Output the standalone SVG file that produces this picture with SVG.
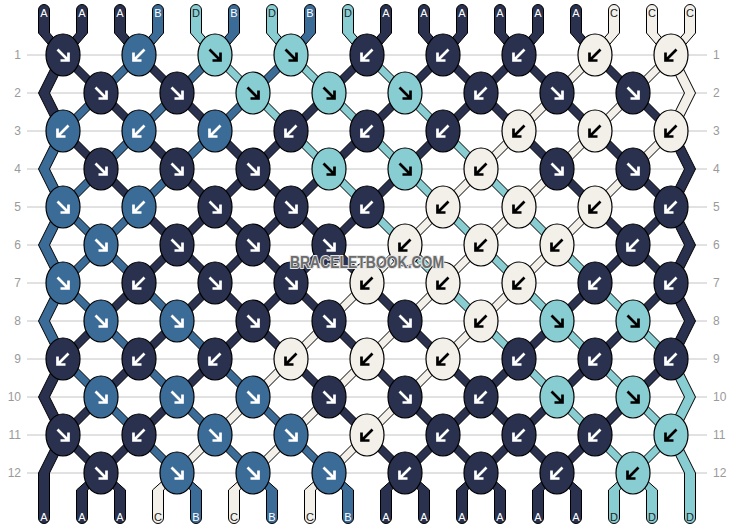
<svg xmlns="http://www.w3.org/2000/svg" width="734" height="528" viewBox="0 0 734 528">
<style>
.s{stroke:#000;stroke-width:1;stroke-linejoin:miter}
.A{fill:#29314f}.B{fill:#3b6c97}.C{fill:#f3efe9}.D{fill:#88cdd2}
.kn{stroke:#000;stroke-width:1.2}
.aw{fill:none;stroke:#fff;stroke-width:2.7}
.ak{fill:none;stroke:#000;stroke-width:2.7}
.rl{stroke:#c4c4c4;stroke-width:1}
.rn{font-family:"Liberation Sans",Arial,sans-serif;font-size:12px;fill:#9a9a9a}
.lb{font-family:"Liberation Sans",Arial,sans-serif;font-size:11px;text-anchor:middle}
.lw{fill:#fff}.ld{fill:#222}
.wm{font-family:"Liberation Sans",Arial,sans-serif;font-size:16px;font-weight:bold;fill:#6c6c6c;stroke:#e6e6e6;stroke-width:2;paint-order:stroke;text-anchor:middle}
</style>
<defs>
<g id="aF"><ellipse class="kn A" rx="17" ry="21"/><path class="aw" d="M-5.5,-5.5L4.5,4.5M5.5,-2.5V5.5H-2.5"/></g>
<g id="aB"><ellipse class="kn A" rx="17" ry="21"/><path class="aw" d="M5.5,-5.5L-4.5,4.5M-5.5,-2.5V5.5H2.5"/></g>
<g id="bF"><ellipse class="kn B" rx="17" ry="21"/><path class="aw" d="M-5.5,-5.5L4.5,4.5M5.5,-2.5V5.5H-2.5"/></g>
<g id="bB"><ellipse class="kn B" rx="17" ry="21"/><path class="aw" d="M5.5,-5.5L-4.5,4.5M-5.5,-2.5V5.5H2.5"/></g>
<g id="cB"><ellipse class="kn C" rx="17" ry="21"/><path class="ak" d="M5.5,-5.5L-4.5,4.5M-5.5,-2.5V5.5H2.5"/></g>
<g id="dF"><ellipse class="kn D" rx="17" ry="21"/><path class="ak" d="M-5.5,-5.5L4.5,4.5M5.5,-2.5V5.5H-2.5"/></g>
<g id="dB"><ellipse class="kn D" rx="17" ry="21"/><path class="ak" d="M5.5,-5.5L-4.5,4.5M-5.5,-2.5V5.5H2.5"/></g>
</defs>
<rect width="734" height="528" fill="#fff"/>
<g id="rows">
<g class="rl">
<line x1="27" y1="55" x2="707" y2="55"/><line x1="27" y1="93" x2="707" y2="93"/><line x1="27" y1="131" x2="707" y2="131"/><line x1="27" y1="169" x2="707" y2="169"/><line x1="27" y1="207" x2="707" y2="207"/><line x1="27" y1="245" x2="707" y2="245"/><line x1="27" y1="283" x2="707" y2="283"/><line x1="27" y1="321" x2="707" y2="321"/><line x1="27" y1="359" x2="707" y2="359"/><line x1="27" y1="397" x2="707" y2="397"/><line x1="27" y1="435" x2="707" y2="435"/><line x1="27" y1="473" x2="707" y2="473"/>
</g>
<g class="rn" text-anchor="end">
<text x="21" y="59">1</text><text x="21" y="97">2</text><text x="21" y="135">3</text><text x="21" y="173">4</text><text x="21" y="211">5</text><text x="21" y="249">6</text><text x="21" y="287">7</text><text x="21" y="325">8</text><text x="21" y="363">9</text><text x="21" y="401">10</text><text x="21" y="439">11</text><text x="21" y="477">12</text>
</g>
<g class="rn">
<text x="713" y="59">1</text><text x="713" y="97">2</text><text x="713" y="135">3</text><text x="713" y="173">4</text><text x="713" y="211">5</text><text x="713" y="249">6</text><text x="713" y="287">7</text><text x="713" y="325">8</text><text x="713" y="363">9</text><text x="713" y="401">10</text><text x="713" y="439">11</text><text x="713" y="477">12</text>
</g>
</g>
<g id="connectors">
<path id="s0" class="s A" d="M38.5,10 A5.5,5.5 0 0 1 49.5,10 L49.5,33 68.5,55 486.5,473 505.5,490 505.5,518 A5.5,5.5 0 0 1 494.5,518 L494.5,490 475.5,473 57.5,55 38.5,33 Z"/>
<path id="s1" class="s A" d="M76.5,10 A5.5,5.5 0 0 1 87.5,10 L87.5,33 68.5,55 49.5,93 68.5,131 410.5,473 429.5,490 429.5,518 A5.5,5.5 0 0 1 418.5,518 L418.5,490 399.5,473 57.5,131 38.5,93 57.5,55 76.5,33 Z"/>
<path id="s2" class="s A" d="M114.5,10 A5.5,5.5 0 0 1 125.5,10 L125.5,33 144.5,55 562.5,473 581.5,490 581.5,518 A5.5,5.5 0 0 1 570.5,518 L570.5,490 551.5,473 133.5,55 114.5,33 Z"/>
<path id="s3" class="s B" d="M152.5,10 A5.5,5.5 0 0 1 163.5,10 L163.5,33 144.5,55 68.5,131 49.5,169 68.5,207 334.5,473 353.5,490 353.5,518 A5.5,5.5 0 0 1 342.5,518 L342.5,490 323.5,473 57.5,207 38.5,169 57.5,131 133.5,55 152.5,33 Z"/>
<path id="s4" class="s D" d="M190.5,10 A5.5,5.5 0 0 1 201.5,10 L201.5,33 220.5,55 638.5,473 657.5,490 657.5,518 A5.5,5.5 0 0 1 646.5,518 L646.5,490 627.5,473 209.5,55 190.5,33 Z"/>
<path id="s5" class="s B" d="M228.5,10 A5.5,5.5 0 0 1 239.5,10 L239.5,33 220.5,55 68.5,207 49.5,245 68.5,283 258.5,473 277.5,490 277.5,518 A5.5,5.5 0 0 1 266.5,518 L266.5,490 247.5,473 57.5,283 38.5,245 57.5,207 209.5,55 228.5,33 Z"/>
<path id="s6" class="s D" d="M266.5,10 A5.5,5.5 0 0 1 277.5,10 L277.5,33 296.5,55 676.5,435 695.5,473 695.5,518 A5.5,5.5 0 0 1 684.5,518 L684.5,473 665.5,435 285.5,55 266.5,33 Z"/>
<path id="s7" class="s B" d="M304.5,10 A5.5,5.5 0 0 1 315.5,10 L315.5,33 296.5,55 68.5,283 49.5,321 68.5,359 182.5,473 201.5,490 201.5,518 A5.5,5.5 0 0 1 190.5,518 L190.5,490 171.5,473 57.5,359 38.5,321 57.5,283 285.5,55 304.5,33 Z"/>
<path id="s8" class="s D" d="M342.5,10 A5.5,5.5 0 0 1 353.5,10 L353.5,33 372.5,55 676.5,359 695.5,397 676.5,435 638.5,473 619.5,490 619.5,518 A5.5,5.5 0 0 1 608.5,518 L608.5,490 627.5,473 665.5,435 684.5,397 665.5,359 361.5,55 342.5,33 Z"/>
<path id="s9" class="s A" d="M380.5,10 A5.5,5.5 0 0 1 391.5,10 L391.5,33 372.5,55 68.5,359 49.5,397 68.5,435 106.5,473 125.5,490 125.5,518 A5.5,5.5 0 0 1 114.5,518 L114.5,490 95.5,473 57.5,435 38.5,397 57.5,359 361.5,55 380.5,33 Z"/>
<path id="s10" class="s A" d="M418.5,10 A5.5,5.5 0 0 1 429.5,10 L429.5,33 448.5,55 676.5,283 695.5,321 676.5,359 562.5,473 543.5,490 543.5,518 A5.5,5.5 0 0 1 532.5,518 L532.5,490 551.5,473 665.5,359 684.5,321 665.5,283 437.5,55 418.5,33 Z"/>
<path id="s11" class="s A" d="M456.5,10 A5.5,5.5 0 0 1 467.5,10 L467.5,33 448.5,55 68.5,435 49.5,473 49.5,518 A5.5,5.5 0 0 1 38.5,518 L38.5,473 57.5,435 437.5,55 456.5,33 Z"/>
<path id="s12" class="s A" d="M494.5,10 A5.5,5.5 0 0 1 505.5,10 L505.5,33 524.5,55 676.5,207 695.5,245 676.5,283 486.5,473 467.5,490 467.5,518 A5.5,5.5 0 0 1 456.5,518 L456.5,490 475.5,473 665.5,283 684.5,245 665.5,207 513.5,55 494.5,33 Z"/>
<path id="s13" class="s A" d="M532.5,10 A5.5,5.5 0 0 1 543.5,10 L543.5,33 524.5,55 106.5,473 87.5,490 87.5,518 A5.5,5.5 0 0 1 76.5,518 L76.5,490 95.5,473 513.5,55 532.5,33 Z"/>
<path id="s14" class="s A" d="M570.5,10 A5.5,5.5 0 0 1 581.5,10 L581.5,33 600.5,55 676.5,131 695.5,169 676.5,207 410.5,473 391.5,490 391.5,518 A5.5,5.5 0 0 1 380.5,518 L380.5,490 399.5,473 665.5,207 684.5,169 665.5,131 589.5,55 570.5,33 Z"/>
<path id="s15" class="s C" d="M608.5,10 A5.5,5.5 0 0 1 619.5,10 L619.5,33 600.5,55 182.5,473 163.5,490 163.5,518 A5.5,5.5 0 0 1 152.5,518 L152.5,490 171.5,473 589.5,55 608.5,33 Z"/>
<path id="s16" class="s C" d="M646.5,10 A5.5,5.5 0 0 1 657.5,10 L657.5,33 676.5,55 695.5,93 676.5,131 334.5,473 315.5,490 315.5,518 A5.5,5.5 0 0 1 304.5,518 L304.5,490 323.5,473 665.5,131 684.5,93 665.5,55 646.5,33 Z"/>
<path id="s17" class="s C" d="M684.5,10 A5.5,5.5 0 0 1 695.5,10 L695.5,33 676.5,55 258.5,473 239.5,490 239.5,518 A5.5,5.5 0 0 1 228.5,518 L228.5,490 247.5,473 665.5,55 684.5,33 Z"/>
</g>
<g id="knots">
<g id="k1-1"><use href="#aF" x="63" y="55"/></g>
<g id="k1-2"><use href="#bB" x="139" y="55"/></g>
<g id="k1-3"><use href="#dF" x="215" y="55"/></g>
<g id="k1-4"><use href="#dF" x="291" y="55"/></g>
<g id="k1-5"><use href="#aB" x="367" y="55"/></g>
<g id="k1-6"><use href="#aB" x="443" y="55"/></g>
<g id="k1-7"><use href="#aB" x="519" y="55"/></g>
<g id="k1-8"><use href="#cB" x="595" y="55"/></g>
<g id="k1-9"><use href="#cB" x="671" y="55"/></g>
<g id="k2-1"><use href="#aF" x="101" y="93"/></g>
<g id="k2-2"><use href="#aF" x="177" y="93"/></g>
<g id="k2-3"><use href="#dF" x="253" y="93"/></g>
<g id="k2-4"><use href="#dF" x="329" y="93"/></g>
<g id="k2-5"><use href="#dF" x="405" y="93"/></g>
<g id="k2-6"><use href="#aB" x="481" y="93"/></g>
<g id="k2-7"><use href="#aF" x="557" y="93"/></g>
<g id="k2-8"><use href="#aF" x="633" y="93"/></g>
<g id="k3-1"><use href="#bB" x="63" y="131"/></g>
<g id="k3-2"><use href="#bB" x="139" y="131"/></g>
<g id="k3-3"><use href="#bB" x="215" y="131"/></g>
<g id="k3-4"><use href="#aB" x="291" y="131"/></g>
<g id="k3-5"><use href="#aB" x="367" y="131"/></g>
<g id="k3-6"><use href="#aB" x="443" y="131"/></g>
<g id="k3-7"><use href="#cB" x="519" y="131"/></g>
<g id="k3-8"><use href="#cB" x="595" y="131"/></g>
<g id="k3-9"><use href="#cB" x="671" y="131"/></g>
<g id="k4-1"><use href="#aF" x="101" y="169"/></g>
<g id="k4-2"><use href="#aF" x="177" y="169"/></g>
<g id="k4-3"><use href="#aF" x="253" y="169"/></g>
<g id="k4-4"><use href="#dF" x="329" y="169"/></g>
<g id="k4-5"><use href="#dF" x="405" y="169"/></g>
<g id="k4-6"><use href="#cB" x="481" y="169"/></g>
<g id="k4-7"><use href="#aF" x="557" y="169"/></g>
<g id="k4-8"><use href="#aF" x="633" y="169"/></g>
<g id="k5-1"><use href="#bF" x="63" y="207"/></g>
<g id="k5-2"><use href="#bB" x="139" y="207"/></g>
<g id="k5-3"><use href="#aF" x="215" y="207"/></g>
<g id="k5-4"><use href="#aF" x="291" y="207"/></g>
<g id="k5-5"><use href="#aB" x="367" y="207"/></g>
<g id="k5-6"><use href="#cB" x="443" y="207"/></g>
<g id="k5-7"><use href="#cB" x="519" y="207"/></g>
<g id="k5-8"><use href="#cB" x="595" y="207"/></g>
<g id="k5-9"><use href="#aB" x="671" y="207"/></g>
<g id="k6-1"><use href="#bF" x="101" y="245"/></g>
<g id="k6-2"><use href="#aF" x="177" y="245"/></g>
<g id="k6-3"><use href="#aF" x="253" y="245"/></g>
<g id="k6-4"><use href="#aF" x="329" y="245"/></g>
<g id="k6-5"><use href="#cB" x="405" y="245"/></g>
<g id="k6-6"><use href="#cB" x="481" y="245"/></g>
<g id="k6-7"><use href="#cB" x="557" y="245"/></g>
<g id="k6-8"><use href="#aB" x="633" y="245"/></g>
<g id="k7-1"><use href="#bF" x="63" y="283"/></g>
<g id="k7-2"><use href="#aB" x="139" y="283"/></g>
<g id="k7-3"><use href="#aF" x="215" y="283"/></g>
<g id="k7-4"><use href="#aF" x="291" y="283"/></g>
<g id="k7-5"><use href="#cB" x="367" y="283"/></g>
<g id="k7-6"><use href="#cB" x="443" y="283"/></g>
<g id="k7-7"><use href="#cB" x="519" y="283"/></g>
<g id="k7-8"><use href="#aB" x="595" y="283"/></g>
<g id="k7-9"><use href="#aB" x="671" y="283"/></g>
<g id="k8-1"><use href="#bF" x="101" y="321"/></g>
<g id="k8-2"><use href="#bF" x="177" y="321"/></g>
<g id="k8-3"><use href="#aF" x="253" y="321"/></g>
<g id="k8-4"><use href="#aF" x="329" y="321"/></g>
<g id="k8-5"><use href="#aF" x="405" y="321"/></g>
<g id="k8-6"><use href="#cB" x="481" y="321"/></g>
<g id="k8-7"><use href="#dF" x="557" y="321"/></g>
<g id="k8-8"><use href="#dF" x="633" y="321"/></g>
<g id="k9-1"><use href="#aB" x="63" y="359"/></g>
<g id="k9-2"><use href="#aB" x="139" y="359"/></g>
<g id="k9-3"><use href="#aB" x="215" y="359"/></g>
<g id="k9-4"><use href="#cB" x="291" y="359"/></g>
<g id="k9-5"><use href="#cB" x="367" y="359"/></g>
<g id="k9-6"><use href="#cB" x="443" y="359"/></g>
<g id="k9-7"><use href="#aB" x="519" y="359"/></g>
<g id="k9-8"><use href="#aB" x="595" y="359"/></g>
<g id="k9-9"><use href="#aB" x="671" y="359"/></g>
<g id="k10-1"><use href="#bF" x="101" y="397"/></g>
<g id="k10-2"><use href="#bF" x="177" y="397"/></g>
<g id="k10-3"><use href="#bF" x="253" y="397"/></g>
<g id="k10-4"><use href="#aF" x="329" y="397"/></g>
<g id="k10-5"><use href="#aF" x="405" y="397"/></g>
<g id="k10-6"><use href="#aB" x="481" y="397"/></g>
<g id="k10-7"><use href="#dF" x="557" y="397"/></g>
<g id="k10-8"><use href="#dF" x="633" y="397"/></g>
<g id="k11-1"><use href="#aF" x="63" y="435"/></g>
<g id="k11-2"><use href="#aB" x="139" y="435"/></g>
<g id="k11-3"><use href="#bF" x="215" y="435"/></g>
<g id="k11-4"><use href="#bF" x="291" y="435"/></g>
<g id="k11-5"><use href="#cB" x="367" y="435"/></g>
<g id="k11-6"><use href="#aB" x="443" y="435"/></g>
<g id="k11-7"><use href="#aB" x="519" y="435"/></g>
<g id="k11-8"><use href="#aB" x="595" y="435"/></g>
<g id="k11-9"><use href="#dB" x="671" y="435"/></g>
<g id="k12-1"><use href="#aF" x="101" y="473"/></g>
<g id="k12-2"><use href="#bF" x="177" y="473"/></g>
<g id="k12-3"><use href="#bF" x="253" y="473"/></g>
<g id="k12-4"><use href="#bF" x="329" y="473"/></g>
<g id="k12-5"><use href="#aB" x="405" y="473"/></g>
<g id="k12-6"><use href="#aB" x="481" y="473"/></g>
<g id="k12-7"><use href="#aB" x="557" y="473"/></g>
<g id="k12-8"><use href="#dB" x="633" y="473"/></g>
</g>
<g id="labels" class="lb">
<text class="lw" x="44" y="17">A</text><text class="lw" x="82" y="17">A</text><text class="lw" x="120" y="17">A</text><text class="lw" x="158" y="17">B</text><text class="ld" x="196" y="17">D</text><text class="lw" x="234" y="17">B</text><text class="ld" x="272" y="17">D</text><text class="lw" x="310" y="17">B</text><text class="ld" x="348" y="17">D</text><text class="lw" x="386" y="17">A</text><text class="lw" x="424" y="17">A</text><text class="lw" x="462" y="17">A</text><text class="lw" x="500" y="17">A</text><text class="lw" x="538" y="17">A</text><text class="lw" x="576" y="17">A</text><text class="ld" x="614" y="17">C</text><text class="ld" x="652" y="17">C</text><text class="ld" x="690" y="17">C</text>
<text class="lw" x="44" y="521">A</text><text class="lw" x="82" y="521">A</text><text class="lw" x="120" y="521">A</text><text class="ld" x="158" y="521">C</text><text class="lw" x="196" y="521">B</text><text class="ld" x="234" y="521">C</text><text class="lw" x="272" y="521">B</text><text class="ld" x="310" y="521">C</text><text class="lw" x="348" y="521">B</text><text class="lw" x="386" y="521">A</text><text class="lw" x="424" y="521">A</text><text class="lw" x="462" y="521">A</text><text class="lw" x="500" y="521">A</text><text class="lw" x="538" y="521">A</text><text class="lw" x="576" y="521">A</text><text class="ld" x="614" y="521">D</text><text class="ld" x="652" y="521">D</text><text class="ld" x="690" y="521">D</text>
</g>
<text id="watermark" class="wm" x="367" y="268" textLength="154" lengthAdjust="spacingAndGlyphs">BRACELETBOOK.COM</text>
</svg>
